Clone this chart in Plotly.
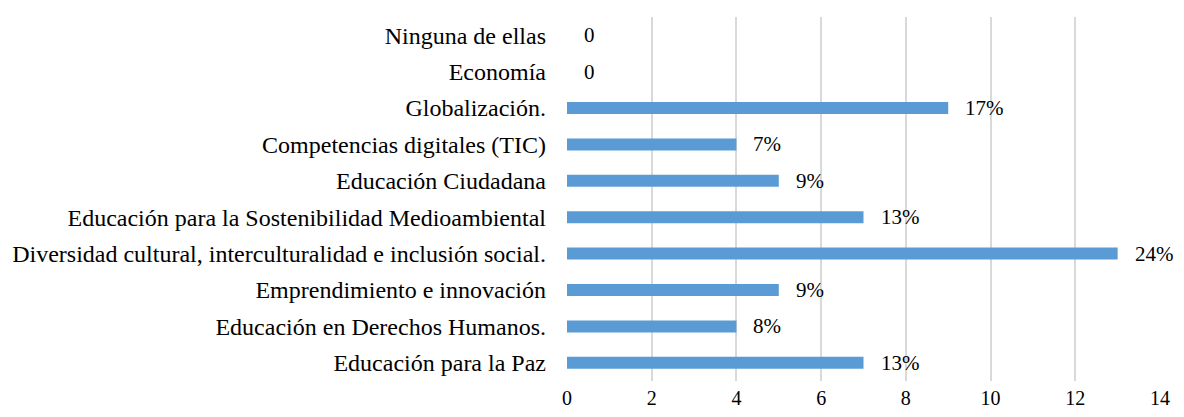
import plotly.graph_objects as go

# --- Data (bottom to top, as drawn) ---
categories = [
    "Educación para la Paz",
    "Educación en Derechos Humanos.",
    "Emprendimiento e innovación",
    "Diversidad cultural, interculturalidad e inclusión social.",
    "Educación para la Sostenibilidad Medioambiental",
    "Educación Ciudadana",
    "Competencias digitales (TIC)",
    "Globalización.",
    "Economía",
    "Ninguna de ellas",
]
counts = [7, 4, 5, 13, 7, 5, 4, 9, 0, 0]
labels = ["13%", "8%", "9%", "24%", "13%", "9%", "7%", "17%", "0", "0"]
x_ticks = [0, 2, 4, 6, 8, 10, 12, 14]

FONT_FAMILY = "Liberation Serif"
BAR_COLOR = "#5b9bd5"
GRID_COLOR = "#d9d9d9"

fig = go.Figure()
fig.add_trace(go.Bar(
    x=counts, y=categories, orientation="h",
    marker=dict(color=BAR_COLOR, line=dict(width=0)),
    hoverinfo="x+y", showlegend=False
))

# value labels to the right of each bar
for c, cat, lab in zip(counts, categories, labels):
    fig.add_annotation(
        x=c, y=cat, text=lab, showarrow=False,
        xanchor="left", yanchor="middle", xshift=15,
        font=dict(family=FONT_FAMILY, size=21, color="#000000")
    )

# page body adds an 8px margin all round, so the figure is kept inside it
fig.update_layout(
    width=1168, height=401,
    margin=dict(l=559, r=16, t=9, b=28),
    paper_bgcolor="white", plot_bgcolor="white",
    bargap=0.67,
    font=dict(family=FONT_FAMILY, size=21, color="#000000"),
    xaxis=dict(
        range=[0, 14], tickmode="array", tickvals=x_ticks,
        showgrid=True, gridcolor=GRID_COLOR, gridwidth=1.5,
        zeroline=False, showline=False, ticks="",
        ticklabelstandoff=3, automargin=False,
        tickfont=dict(family=FONT_FAMILY, size=20, color="#000000"),
    ),
    yaxis=dict(
        showgrid=False, zeroline=False, showline=False, ticks="",
        ticklabelstandoff=20, automargin=False,
        tickfont=dict(family=FONT_FAMILY, size=24, color="#000000"),
    ),
)

fig.write_html("out.html")
